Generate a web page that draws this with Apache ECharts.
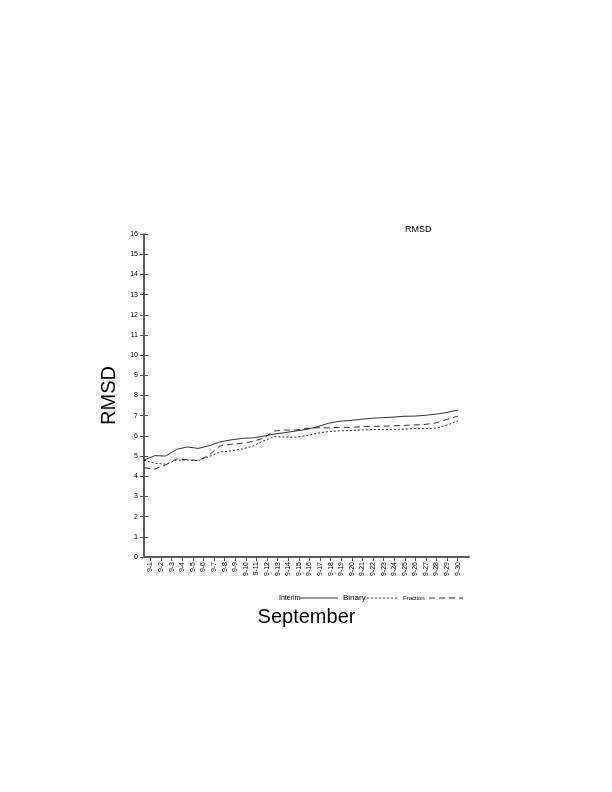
<!DOCTYPE html>
<html><head><meta charset="utf-8">
<script src="https://cdn.jsdelivr.net/npm/echarts@6/dist/echarts.min.js"></script>
<style>html,body{margin:0;padding:0;background:#fff}#c{width:612px;height:792px}</style>
</head><body><div id="c"></div>
<script>
const dayLabels = ['9-1','9-2','9-3','9-4','9-5','9-6','9-7','9-8','9-9','9-10','9-11','9-12','9-13','9-14','9-15','9-16','9-17','9-18','9-19','9-20','9-21','9-22','9-23','9-24','9-25','9-26','9-27','9-28','9-29','9-30'];
const interim = [4.80,5.02,5.00,5.33,5.45,5.38,5.51,5.70,5.80,5.87,5.90,5.98,6.09,6.16,6.24,6.32,6.45,6.62,6.72,6.76,6.82,6.87,6.90,6.93,6.97,6.98,7.02,7.08,7.16,7.28];
const binary = [4.80,4.64,4.60,4.80,4.80,4.77,4.97,5.20,5.26,5.34,5.48,5.75,5.96,5.94,5.93,6.01,6.13,6.21,6.25,6.26,6.29,6.31,6.32,6.32,6.34,6.36,6.36,6.39,6.54,6.75];
const fraction = [4.42,4.36,4.56,4.85,4.83,4.77,5.05,5.50,5.58,5.63,5.72,5.88,6.24,6.29,6.29,6.37,6.40,6.40,6.42,6.42,6.45,6.47,6.48,6.50,6.52,6.54,6.57,6.65,6.82,6.98];
const yTicks = [0,1,2,3,4,5,6,7,8,9,10,11,12,13,14,15,16];
const seriesNames = ['Interim', 'Binary', 'Fraction'];

const tickStart = 0.6, tickStep = 28.36/29;
const tickPos = dayLabels.map((_, i) => tickStart + i * tickStep);
const toPairs = arr => arr.map((v, i) => [i, v]);

const font = 'Liberation Sans, Arial, sans-serif';
const axisCol = '#555';
const dashes = {Interim: 'solid', Binary: [2, 2], Fraction: [6, 4]};

const legendItems = [
  {name: seriesNames[0], tx: 279, size: 7, x1: 300, x2: 338},
  {name: seriesNames[1], tx: 343, size: 8, x1: 367, x2: 399},
  {name: seriesNames[2], tx: 403, size: 6, x1: 429, x2: 463}
];
const legendY = 598;
const graphics = [];
legendItems.forEach(it => {
  graphics.push({type: 'text', x: it.tx, y: legendY,
    style: {text: it.name, fontSize: it.size, fontFamily: font, fill: '#000', verticalAlign: 'middle', align: 'left'}});
  graphics.push({type: 'line', shape: {x1: it.x1, y1: legendY, x2: it.x2, y2: legendY},
    style: {stroke: '#000', lineWidth: 0.8, lineDash: dashes[it.name] === 'solid' ? null : dashes[it.name]}});
});

const chart = echarts.init(document.getElementById('c'));
chart.setOption({
  animation: false,
  backgroundColor: '#fff',
  textStyle: {fontFamily: font},
  title: {text: 'RMSD', left: 400, top: 220, textStyle: {fontSize: 9, fontWeight: 'normal', color: '#000', fontFamily: font}},
  grid: {left: 144, top: 234, width: 325, height: 323},
  graphic: graphics,
  xAxis: [{
    type: 'value', min: 0, max: 30,
    name: 'September', nameLocation: 'middle', nameGap: 50,
    nameTextStyle: {fontSize: 20, color: '#000', fontFamily: font},
    axisLine: {show: true, lineStyle: {color: axisCol, width: 1.5}},
    axisTick: {show: true, length: 4, customValues: tickPos, lineStyle: {color: axisCol, width: 1}},
    axisLabel: {
      customValues: tickPos, rotate: 90, fontSize: 7, color: '#000', margin: 5,
      formatter: v => dayLabels[Math.round((v - tickStart) / tickStep)] || ''
    },
    splitLine: {show: false}
  }, {
    type: 'value', position: 'top', min: 0, max: 30,
    axisLine: {show: true, lineStyle: {color: axisCol, width: 1.5}},
    axisTick: {show: false}, axisLabel: {show: false}, splitLine: {show: false}
  }],
  yAxis: [{
    type: 'value', min: 0, max: 16, interval: 1,
    name: 'RMSD', nameLocation: 'middle', nameGap: 24, nameRotate: 90,
    nameTextStyle: {fontSize: 20, color: '#000', fontFamily: font},
    axisLine: {show: true, lineStyle: {color: axisCol, width: 1.5}},
    axisTick: {show: true, length: 4, lineStyle: {color: axisCol, width: 1}},
    axisLabel: {fontSize: 7, color: '#000', margin: 6, formatter: v => yTicks.includes(v) ? String(v) : ''},
    splitLine: {show: false}
  }, {
    type: 'value', position: 'right', min: 0, max: 16, interval: 1,
    axisLine: {show: true, lineStyle: {color: axisCol, width: 1.5}},
    axisTick: {show: true, length: 4, lineStyle: {color: axisCol, width: 1}},
    axisLabel: {show: false}, splitLine: {show: false}
  }],
  series: [
    {name: seriesNames[0], type: 'line', data: toPairs(interim), symbol: 'none', color: '#000',
     lineStyle: {color: '#000', width: 0.8, type: dashes.Interim}},
    {name: seriesNames[1], type: 'line', data: toPairs(binary), symbol: 'none', color: '#000',
     lineStyle: {color: '#000', width: 0.8, type: dashes.Binary}},
    {name: seriesNames[2], type: 'line', data: toPairs(fraction), symbol: 'none', color: '#000',
     lineStyle: {color: '#000', width: 0.8, type: dashes.Fraction}}
  ]
});
</script></body></html>
